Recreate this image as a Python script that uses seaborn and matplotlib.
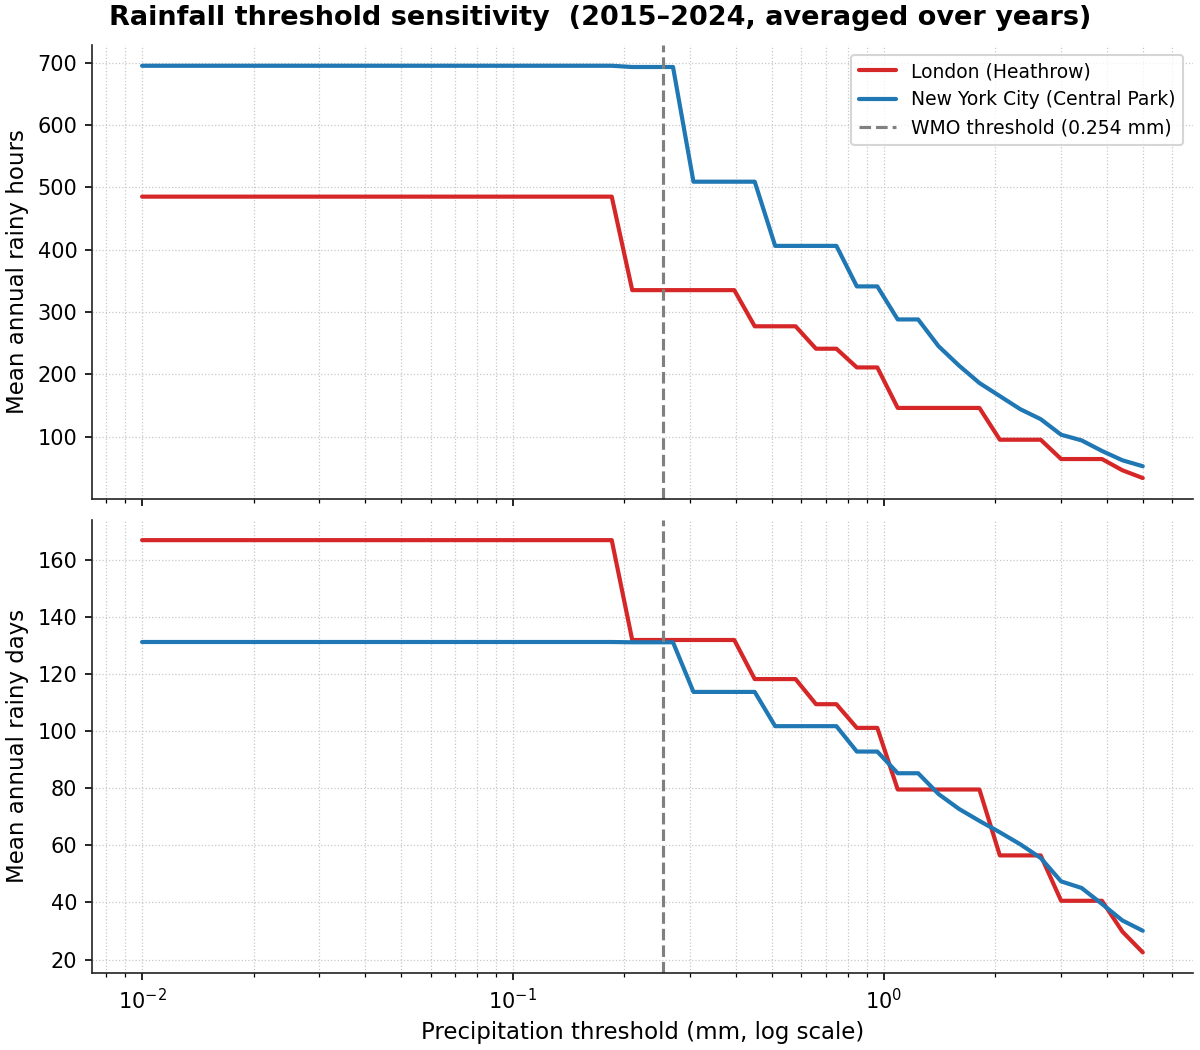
import numpy as np
import pandas as pd
import matplotlib
matplotlib.use("Agg")
import matplotlib.pyplot as plt
import seaborn as sns

# Precipitation thresholds (mm), log-spaced from 0.01 to 5
thresholds = [0.0100, 0.0113, 0.0129, 0.0146, 0.0166, 0.0188, 0.0214, 0.0243,
              0.0276, 0.0313, 0.0356, 0.0404, 0.0458, 0.0521, 0.0591, 0.0671,
              0.0762, 0.0865, 0.0982, 0.1115, 0.1264, 0.1435, 0.1628, 0.1848,
              0.2099, 0.2382, 0.2704, 0.3070, 0.3485, 0.3956, 0.4491, 0.5099,
              0.5788, 0.6571, 0.7459, 0.8468, 0.9616, 1.0916, 1.2392, 1.4068,
              1.5970, 1.8130, 2.0581, 2.3365, 2.6525, 3.0112, 3.4184, 3.8807,
              4.4055, 5.0000]

london_hours = ([485] * 24 + [335] * 6 + [277] * 3 + [241] * 2 + [211] * 2
                + [146] * 5 + [95] * 3 + [64] * 3 + [46, 33.5])
nyc_hours = ([695] * 24 + [693] * 3 + [509] * 4 + [406] * 4 + [341] * 2
             + [288] * 2 + [245, 214, 186, 165, 144, 128, 103, 94, 77, 62, 52.5])

london_days = ([167] * 24 + [132] * 6 + [118.3] * 3 + [109.5] * 2 + [101.2] * 2
               + [79.6] * 5 + [56.5] * 3 + [40.6] * 3 + [29.8, 22.5])
nyc_days = ([131.3] * 24 + [131.2] * 3 + [113.8] * 4 + [101.8] * 4 + [92.9] * 2
            + [85.3] * 2 + [78.0, 72.8, 68.6, 64.6, 60.4, 55.6, 47.4, 45.1,
                            39.5, 33.7, 30.1])

cities = ["London (Heathrow)", "New York City (Central Park)"]
colors = ["#d62728", "#1f77b4"]
wmo_threshold = 0.254

df = pd.concat([
    pd.DataFrame({"threshold": thresholds, "hours": london_hours,
                  "days": london_days, "city": cities[0]}),
    pd.DataFrame({"threshold": thresholds, "hours": nyc_hours,
                  "days": nyc_days, "city": cities[1]}),
], ignore_index=True)

sns.set_style("ticks")
plt.rcParams["font.family"] = ["DejaVu Sans"]
plt.rcParams.update({
    "text.color": "black",
    "axes.labelcolor": "black",
    "xtick.color": "black",
    "ytick.color": "black",
    "axes.edgecolor": "#222222",
})

fig, axes = plt.subplots(2, 1, figsize=(8, 7), dpi=150, sharex=True)
palette = dict(zip(cities, colors))

for ax, col, ylabel, show_legend in [
        (axes[0], "hours", "Mean annual rainy hours", True),
        (axes[1], "days", "Mean annual rainy days", False)]:
    sns.lineplot(data=df, x="threshold", y=col, hue="city", palette=palette,
                 linewidth=2, ax=ax, legend=show_legend)
    ax.axvline(wmo_threshold, color="gray", linestyle="--", linewidth=1.5,
               label=f"WMO threshold ({wmo_threshold} mm)")
    ax.set_xscale("log")
    ax.set_ylabel(ylabel, fontsize=11)
    ax.grid(True, which="both", linestyle=":", linewidth=0.6, color="#c8c8c8")
    ax.tick_params(labelsize=10)
    sns.despine(ax=ax)

axes[0].set_xlabel("")
axes[1].set_xlabel("Precipitation threshold (mm, log scale)", fontsize=11)
handles, labels = axes[0].get_legend_handles_labels()
axes[0].legend(handles, labels, loc="upper right", fontsize=9, frameon=True)

fig.suptitle("Rainfall threshold sensitivity  (2015\u20132024, averaged over years)",
             fontsize=13, fontweight="bold", y=0.983, va="center")
fig.subplots_adjust(left=0.0767, right=0.994, top=0.957, bottom=0.0733,
                    hspace=0.046)
fig.savefig("out.png", dpi=150)
